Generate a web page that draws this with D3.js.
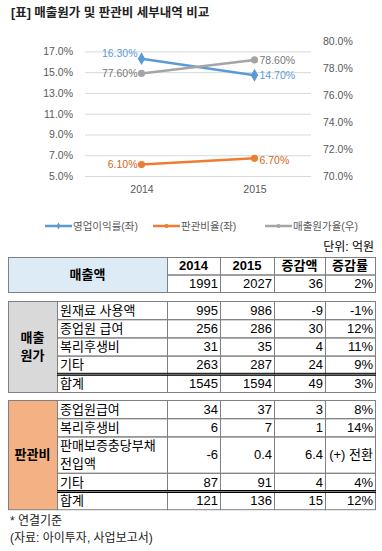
<!DOCTYPE html>
<html>
<head>
<meta charset="utf-8">
<script src="https://cdn.jsdelivr.net/npm/d3@7"></script>
<style>
  body { margin: 0; background: #fff; }
  svg { display: block; font-family: "Liberation Sans", "Noto Sans CJK KR", sans-serif; }
</style>
</head>
<body>
<div class="chart"></div>
<script>
var svgWidth = 382;
var svgHeight = 551;

// chart data
var years = ["2014", "2015"];
var opMargin = [16.3, 14.7];     // 영업이익률(좌)
var sgaRatio = [6.1, 6.7];       // 판관비율(좌)
var cogsRatio = [77.6, 78.6];    // 매출원가율(우)
var leftTicks = [5, 7, 9, 11, 13, 15, 17];
var rightTicks = [70, 72, 74, 76, 78, 80];

// table data
var tableHeader = ["2014", "2015", "증감액", "증감률"];
var salesRow = ["1991", "2027", "36", "2%"];
var cogsLabels = ["원재료 사용액", "종업원 급여", "복리후생비", "기타", "합계"];
var cogsValues = [
  ["995", "986", "-9", "-1%"],
  ["256", "286", "30", "12%"],
  ["31", "35", "4", "11%"],
  ["263", "287", "24", "9%"],
  ["1545", "1594", "49", "3%"]
];
var sgaLabels = ["종업원급여", "복리후생비", "판매보증충당부채\n전입액", "기타", "합계"];
var sgaValues = [
  ["34", "37", "3", "8%"],
  ["6", "7", "1", "14%"],
  ["-6", "0.4", "6.4", "(+) 전환"],
  ["87", "91", "4", "4%"],
  ["121", "136", "15", "12%"]
];

var svg = d3.select(".chart")
  .append("svg")
  .attr("width", svgWidth)
  .attr("height", svgHeight);

svg.append("rect").attr("width", svgWidth).attr("height", svgHeight).attr("fill", "#fff");

// title
svg.append("text")
  .attr("x", 11)
  .attr("y", 17)
  .attr("font-size", "12.5px")
  .attr("font-weight", "bold")
  .attr("fill", "#222")
  .text("[표] 매출원가 및 판관비 세부내역 비교");

// ---------------- line chart ----------------
var plot = { left: 85, right: 311, top: 41, bottom: 176 };

var x = d3.scalePoint().domain(years).range([plot.left, plot.right]).padding(0.5);
var yLeft = d3.scaleLinear().domain([5, 18]).range([plot.bottom, plot.top]);
var yRight = d3.scaleLinear().domain([70, 80]).range([plot.bottom, plot.top]);

var leftAxis = d3.axisLeft(yLeft)
  .tickValues(leftTicks)
  .tickSize(-(plot.right - plot.left))
  .tickPadding(12)
  .tickFormat(d => d.toFixed(1) + "%");

var gLeft = svg.append("g")
  .attr("transform", `translate(${plot.left}, 0)`)
  .call(leftAxis);
gLeft.select(".domain").remove();
gLeft.selectAll(".tick line").attr("stroke", "#d9d9d9");
gLeft.selectAll(".tick text")
  .attr("font-size", "10.5px")
  .attr("fill", "#595959");

var rightAxis = d3.axisRight(yRight)
  .tickValues(rightTicks)
  .tickSize(0)
  .tickPadding(12)
  .tickFormat(d => d.toFixed(1) + "%");

var gRight = svg.append("g")
  .attr("transform", `translate(${plot.right}, 0)`)
  .call(rightAxis);
gRight.select(".domain").remove();
gRight.selectAll(".tick text")
  .attr("font-size", "10.5px")
  .attr("fill", "#595959");

var bottomAxis = d3.axisBottom(x).tickSize(0).tickPadding(10);
var gBottom = svg.append("g")
  .attr("transform", `translate(0, ${plot.bottom})`)
  .call(bottomAxis);
gBottom.select(".domain").remove();
gBottom.selectAll(".tick text")
  .attr("font-size", "10.5px")
  .attr("fill", "#595959");

var series = [
  { name: "영업이익률(좌)", values: opMargin, scale: yLeft, color: "#5b9bd5", label: "#5b9bd5", marker: "diamond", nudge: [-5, 0] },
  { name: "판관비율(좌)", values: sgaRatio, scale: yLeft, color: "#ed7d31", label: "#d4661c", marker: "circle", nudge: [0, 2] },
  { name: "매출원가율(우)", values: cogsRatio, scale: yRight, color: "#a5a5a5", label: "#767676", marker: "circle", nudge: [0, 0] }
];

var line = d3.line();

series.forEach(s => {
  var pts = years.map((yr, i) => [x(yr), s.scale(s.values[i])]);
  svg.append("path")
    .attr("d", line(pts))
    .attr("fill", "none")
    .attr("stroke", s.color)
    .attr("stroke-width", 2.5);

  pts.forEach((p, i) => {
    var sym = d3.symbol()
      .type(s.marker === "diamond" ? d3.symbolDiamond : d3.symbolCircle)
      .size(s.marker === "diamond" ? 48 : 40);
    svg.append("path")
      .attr("d", sym())
      .attr("transform", `translate(${p[0]}, ${p[1]})`)
      .attr("fill", s.color);

    // data labels: left of the first point, right of the second
    svg.append("text")
      .attr("x", i === 0 ? p[0] - 4 : p[0] + 5)
      .attr("y", p[1] + s.nudge[i])
      .attr("dy", "0.35em")
      .attr("text-anchor", i === 0 ? "end" : "start")
      .attr("font-size", "10.5px")
      .attr("fill", s.label)
      .text(s.values[i].toFixed(2) + "%");
  });
});

// legend
var legendX = [45, 153, 265];
series.forEach((s, i) => {
  var g = svg.append("g").attr("transform", `translate(${legendX[i]}, 226)`);
  g.append("line")
    .attr("x1", 0).attr("x2", 27)
    .attr("stroke", s.color)
    .attr("stroke-width", 2.5);
  g.append("path")
    .attr("d", d3.symbol().type(s.marker === "diamond" ? d3.symbolDiamond : d3.symbolCircle).size(14)())
    .attr("transform", "translate(13.5, 0)")
    .attr("fill", s.color);
  g.append("text")
    .attr("x", 28)
    .attr("dy", "0.35em")
    .attr("font-size", "10.5px")
    .attr("fill", "#595959")
    .text(s.name);
});

// ---------------- tables ----------------
var colX = [8, 57, 167, 220, 274, 325, 375];
var border = "#808080";

svg.append("text")
  .attr("x", 374)
  .attr("y", 247)
  .attr("dy", "0.35em")
  .attr("text-anchor", "end")
  .attr("font-size", "12px")
  .attr("fill", "#000")
  .text("단위: 억원");

function rect(x0, y0, x1, y1, fill) {
  svg.append("rect")
    .attr("x", x0 + 0.5).attr("y", y0 + 0.5)
    .attr("width", x1 - x0).attr("height", y1 - y0)
    .attr("fill", fill || "none")
    .attr("stroke", border)
    .attr("stroke-width", 1);
}

function cellText(str, x0, yMid, anchor, bold) {
  var lines = str.split("\n");
  var t = svg.append("text")
    .attr("text-anchor", anchor)
    .attr("font-size", "13px")
    .attr("font-weight", bold ? "bold" : "normal")
    .attr("fill", "#000");
  lines.forEach((ln, k) => {
    t.append("tspan")
      .attr("x", x0)
      .attr("y", yMid + (k - (lines.length - 1) / 2) * 18)
      .attr("dy", "0.36em")
      .text(ln);
  });
}

// table 1: 매출액
var t1 = [257, 274.5, 292];
rect(colX[0], t1[0], colX[2], t1[2], "#ddebf7");
cellText("매출액", (colX[0] + colX[2]) / 2, (t1[0] + t1[2]) / 2, "middle", true);
tableHeader.forEach((h, j) => {
  rect(colX[j + 2], t1[0], colX[j + 3], t1[1]);
  cellText(h, (colX[j + 2] + colX[j + 3]) / 2, (t1[0] + t1[1]) / 2, "middle", true);
  rect(colX[j + 2], t1[1], colX[j + 3], t1[2]);
  cellText(salesRow[j], colX[j + 3] - 2, (t1[1] + t1[2]) / 2, "end", false);
});

function detailTable(top, title, fill, labels, values) {
  var rowH = 18.2;
  var ys = [top];
  labels.forEach(l => ys.push(ys[ys.length - 1] + rowH * l.split("\n").length));
  var bottom = ys[ys.length - 1];
  rect(colX[0], top, colX[1], bottom, fill);
  cellText(title, (colX[0] + colX[1]) / 2, (top + bottom) / 2, "middle", true);
  labels.forEach((l, i) => {
    var y0 = ys[i], y1 = ys[i + 1], mid = (y0 + y1) / 2;
    rect(colX[1], y0, colX[2], y1);
    cellText(l, colX[1] + 3, mid, "start", false);
    values[i].forEach((v, j) => {
      rect(colX[j + 2], y0, colX[j + 3], y1);
      cellText(v, colX[j + 3] - 2, mid, "end", false);
    });
  });
  // double rule above the total row
  var yt = ys[labels.length - 1];
  [-0.5, 1.5].forEach(off => {
    svg.append("line")
      .attr("x1", colX[1]).attr("x2", colX[6] + 1)
      .attr("y1", yt + off).attr("y2", yt + off)
      .attr("stroke", "#000")
      .attr("stroke-width", 1);
  });
}

detailTable(301, "매출\n원가", "#d9d9d9", cogsLabels, cogsValues);
detailTable(400, "판관비", "#f4b183", sgaLabels, sgaValues);

// footnotes
svg.append("text")
  .attr("x", 10).attr("y", 521).attr("dy", "0.35em")
  .attr("font-size", "12px").attr("fill", "#222")
  .text("* 연결기준");
svg.append("text")
  .attr("x", 10).attr("y", 538).attr("dy", "0.35em")
  .attr("font-size", "12px").attr("fill", "#222")
  .text("(자료: 아이투자, 사업보고서)");
</script>
</body>
</html>
